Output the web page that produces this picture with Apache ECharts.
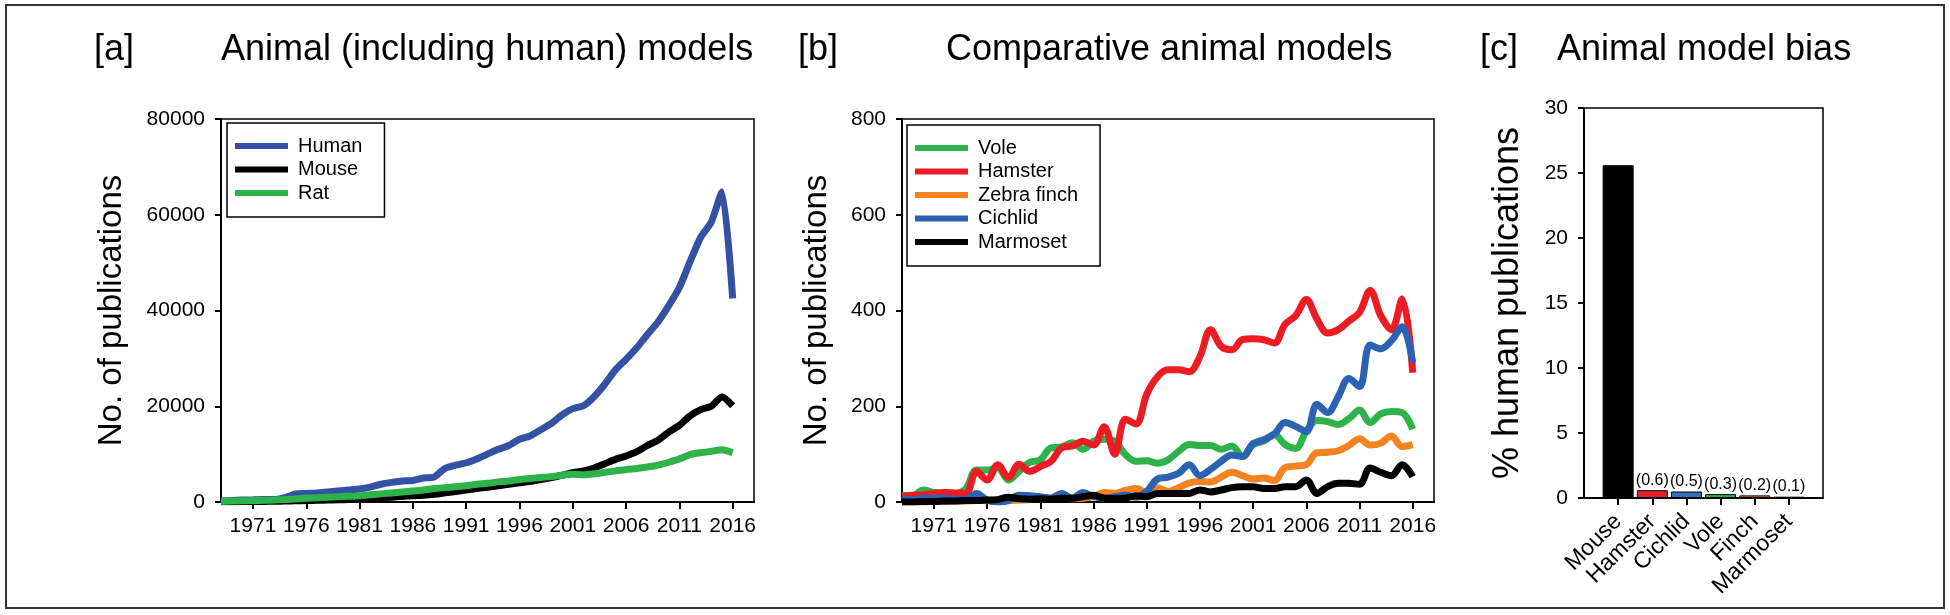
<!DOCTYPE html>
<html><head><meta charset="utf-8">
<script src="https://cdn.jsdelivr.net/npm/echarts@6/dist/echarts.min.js"></script>
<style>html,body{margin:0;padding:0;background:#fff}#c{width:1950px;height:615px}</style>
</head><body><div id="c"></div>
<script>
const years = [1968,1969,1970,1971,1972,1973,1974,1975,1976,1977,1978,1979,1980,1981,1982,1983,1984,1985,1986,1987,1988,1989,1990,1991,1992,1993,1994,1995,1996,1997,1998,1999,2000,2001,2002,2003,2004,2005,2006,2007,2008,2009,2010,2011,2012,2013,2014,2015,2016];
const yearTicks = [1971,1976,1981,1986,1991,1996,2001,2006,2011,2016];

const human = [200,300,400,450,500,500,900,1700,1800,1900,2100,2300,2500,2700,3100,3700,4100,4400,4500,5000,5200,7000,7700,8200,9000,10000,11000,11800,13100,13800,15100,16400,18200,19500,20100,22000,24600,27600,29800,32200,35000,37600,41000,44800,50200,55300,58500,64800,42500];
const mouse = [50,60,80,100,120,150,200,250,300,350,400,450,500,600,700,850,1000,1150,1300,1400,1600,1900,2200,2500,2800,3100,3400,3700,4000,4300,4700,5100,5600,6100,6500,7100,8000,8900,9600,10500,11800,12900,14600,16000,18000,19300,20000,22000,20100];
const rat = [150,200,250,300,350,400,500,650,800,900,1000,1100,1200,1300,1500,1700,1900,2100,2300,2500,2800,3000,3200,3400,3700,3900,4200,4400,4700,4900,5100,5300,5600,5800,5700,5900,6200,6500,6800,7000,7300,7700,8300,9000,9900,10300,10600,10900,10300];

const vole = [14,13,25,20,18,18,28,67,67,71,46,64,83,88,113,115,124,110,127,131,127,99,85,86,81,88,106,120,118,118,110,117,95,120,127,141,120,112,148,170,168,162,174,192,166,184,189,187,152];
const hamster = [11,14,15,18,20,19,18,64,46,78,51,79,64,74,85,113,117,127,119,157,100,173,163,225,261,276,276,272,304,360,325,318,339,341,339,332,371,389,423,382,353,360,378,396,442,389,360,424,270];
const zebraFinch = [0,0,0,1,1,2,2,3,3,4,3,4,5,10,8,11,7,8,11,20,18,24,28,20,30,22,30,40,43,42,52,62,55,48,50,45,72,75,78,103,104,107,118,132,119,123,138,116,120];
const cichlid = [5,5,8,8,8,6,6,18,4,0,3,14,13,11,8,18,8,20,11,8,11,14,10,22,48,52,60,78,55,68,85,98,95,122,130,142,166,158,147,204,187,220,258,241,328,320,337,366,291];
const marmoset = [0,0,1,1,2,2,3,3,4,5,10,7,6,7,6,8,8,11,14,8,7,8,13,11,18,18,18,18,25,21,25,30,32,32,28,28,32,32,46,18,32,39,39,37,71,62,55,78,53];

const biasCategories = ['Mouse','Hamster','Cichlid','Vole','Finch','Marmoset'];
const biasValues = [25.6,0.6,0.5,0.3,0.2,0.1];
const biasColors = ['#000000','#e8202a','#3a6cc0','#2db34a','#f58220','#000000'];

const FONT = '"Liberation Sans", Arial, sans-serif';
const pairs = arr => years.map((y, i) => [y, arr[i]]);

function lineX(gi) {
  return {
    type: 'value', gridIndex: gi, min: 1968, max: 2018,
    axisLine: {show: true, lineStyle: {color: '#000', width: 2}},
    axisTick: {show: true, length: 7, lineStyle: {color: '#000', width: 2}, customValues: yearTicks},
    axisLabel: {fontSize: 21, color: '#000', fontFamily: FONT, margin: 14, customValues: yearTicks, formatter: v => String(v)},
    splitLine: {show: false}
  };
}
function lineY(gi, max, interval, gap) {
  return {
    type: 'value', gridIndex: gi, min: 0, max: max, interval: interval,
    name: 'No. of publications', nameLocation: 'middle', nameGap: gap,
    nameTextStyle: {fontSize: 33, color: '#000', fontFamily: FONT},
    axisLine: {show: true, lineStyle: {color: '#000', width: 2}},
    axisTick: {show: true, length: 6, lineStyle: {color: '#000', width: 2}},
    axisLabel: {fontSize: 21, color: '#000', fontFamily: FONT, margin: 16, formatter: v => String(v)},
    splitLine: {show: false}
  };
}
function lineSeries(name, arr, color, xi, smooth) {
  return {
    type: 'line', name: name, xAxisIndex: xi, yAxisIndex: xi, data: pairs(arr),
    showSymbol: false, symbol: 'none', smooth: smooth, color: color,
    lineStyle: {width: 7, color: color}, itemStyle: {color: color}, animation: false
  };
}
function legendBox(names, left, top) {
  return {
    data: names, orient: 'vertical', left: left, top: top, icon: 'rect',
    itemWidth: 53, itemHeight: 6, itemGap: 3.5,
    borderColor: '#000', borderWidth: 1.5, padding: [13, 22, 14, 8],
    textStyle: {fontSize: 20, color: '#000', fontFamily: FONT, padding: [0, 0, 0, 5]},
    selectedMode: false
  };
}

const titleStyle = {fontSize: 36, fontWeight: 'normal', color: '#000', fontFamily: FONT};
const option = {
  animation: false,
  backgroundColor: '#fff',
  title: [
    {text: '[a]', left: 94, top: 32, padding: 0, textStyle: titleStyle},
    {text: 'Animal (including human) models', left: 221, top: 32, padding: 0, textStyle: titleStyle},
    {text: '[b]', left: 798, top: 32, padding: 0, textStyle: titleStyle},
    {text: 'Comparative animal models', left: 946, top: 32, padding: 0, textStyle: titleStyle},
    {text: '[c]', left: 1480, top: 32, padding: 0, textStyle: titleStyle},
    {text: 'Animal model bias', left: 1557, top: 32, padding: 0, textStyle: titleStyle}
  ],
  legend: [
    legendBox(['Human','Mouse','Rat'], 227, 123),
    legendBox(['Vole','Hamster','Zebra finch','Cichlid','Marmoset'], 907, 125)
  ],
  grid: [
    {left: 221, top: 119, width: 533, height: 383, show: true, borderColor: '#000', borderWidth: 1.5},
    {left: 902, top: 119, width: 532, height: 383, show: true, borderColor: '#000', borderWidth: 1.5},
    {left: 1584, top: 108, width: 239, height: 390, show: true, borderColor: '#000', borderWidth: 1.5}
  ],
  xAxis: [
    lineX(0), lineX(1),
    {
      type: 'category', gridIndex: 2, boundaryGap: false,
      data: [''].concat(biasCategories, ['']),
      axisLine: {show: true, lineStyle: {color: '#000', width: 2}},
      axisTick: {show: true, length: 7, lineStyle: {color: '#000', width: 2}, interval: (i, v) => v !== ''},
      axisLabel: {fontSize: 23, color: '#000', fontFamily: FONT, rotate: 45, margin: 20, interval: (i, v) => v !== ''},
      splitLine: {show: false}
    }
  ],
  yAxis: [
    lineY(0, 80000, 20000, 93), lineY(1, 800, 200, 69),
    {
      type: 'value', gridIndex: 2, min: 0, max: 30, interval: 5,
      name: '% human publications', nameLocation: 'middle', nameGap: 58,
      nameTextStyle: {fontSize: 36, color: '#000', fontFamily: FONT},
      axisLine: {show: true, lineStyle: {color: '#000', width: 2}},
      axisTick: {show: true, length: 6, lineStyle: {color: '#000', width: 2}},
      axisLabel: {fontSize: 21, color: '#000', fontFamily: FONT, margin: 16},
      splitLine: {show: false}
    }
  ],
  series: [
    lineSeries('Human', human, '#3451a3', 0, 0.2),
    lineSeries('Mouse', mouse, '#000000', 0, 0.2),
    lineSeries('Rat', rat, '#2db34a', 0, 0.2),
    lineSeries('Vole', vole, '#2db34a', 1, 0.35),
    lineSeries('Hamster', hamster, '#ec1c24', 1, 0.35),
    lineSeries('Zebra finch', zebraFinch, '#f58220', 1, 0.35),
    lineSeries('Cichlid', cichlid, '#2b62b1', 1, 0.35),
    lineSeries('Marmoset', marmoset, '#000000', 1, 0.35),
    {
      type: 'bar', xAxisIndex: 2, yAxisIndex: 2, barWidth: 31,
      data: [null].concat(biasValues.map((v, i) => ({
        value: v,
        itemStyle: {color: biasColors[i], borderColor: '#000', borderWidth: 1},
        label: {show: i > 0}
      })), [null]),
      label: {position: 'top', distance: 2, fontSize: 16, color: '#000', fontFamily: FONT, formatter: p => '(' + p.value + ')'},
      animation: false
    }
  ],
  graphic: [
    {type: 'rect', shape: {x: 6, y: 5, width: 1938, height: 603}, style: {fill: 'none', stroke: '#333', lineWidth: 2}, silent: true}
  ]
};
const chart = echarts.init(document.getElementById('c'), null, {renderer: 'canvas'});
chart.setOption(option);
</script>
</body></html>
